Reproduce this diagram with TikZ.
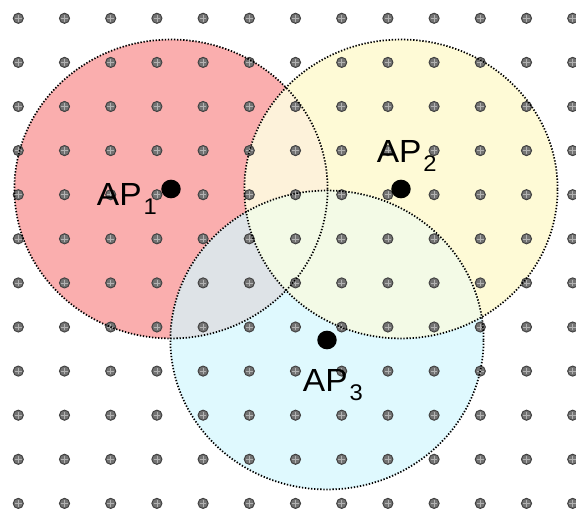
\documentclass[tikz,border=0pt]{standalone}
\usepackage{fontspec}
\usepackage{graphicx}
\setmainfont{Liberation Sans}

% Fill colours of the three coverage zones and their overlaps
\definecolor{zoneA}{RGB}{250,174,174}
\definecolor{zoneB}{RGB}{254,250,214}
\definecolor{zoneC}{RGB}{223,249,254}
\definecolor{zoneAB}{RGB}{253,242,218}
\definecolor{zoneAC}{RGB}{222,227,231}
\definecolor{zoneBC}{RGB}{243,250,230}

\newcommand{\aplabel}[1]{\scalebox{1.048}[1]{AP\kern1.4pt\raisebox{-6.5pt}{\fontsize{17pt}{18pt}\selectfont #1}}}

\tikzset{
  zone/.style={x radius=117.45pt, y radius=112.1pt},
  rim/.style={draw=black, line width=1.3pt, dash pattern=on 1pt off 1.3pt},
  gridpt/.style={circle, fill=black!55, draw=black!75, line width=0.7pt, inner sep=0pt, minimum size=7.6pt},
  apdot/.style={fill=black},
  aptext/.style={anchor=base west, inner sep=0pt, font=\fontsize{24pt}{28pt}\selectfont},
}

\begin{document}
\begin{tikzpicture}[x=0.75pt, y=-0.75pt]
  \useasboundingbox (0,0) rectangle (576,510);

  % access point positions
  \coordinate (ap1) at (171,189);
  \coordinate (ap2) at (401,189);
  \coordinate (ap3) at (327,340);

  % coverage zones
  \fill[zoneA] (ap1) ellipse [zone];
  \fill[zoneB] (ap2) ellipse [zone];
  \fill[zoneC] (ap3) ellipse [zone];
  \begin{scope}
    \clip (ap1) ellipse [zone];
    \fill[zoneAB] (ap2) ellipse [zone];
    \fill[zoneAC] (ap3) ellipse [zone];
  \end{scope}
  \begin{scope}
    \clip (ap2) ellipse [zone];
    \fill[zoneBC] (ap3) ellipse [zone];
  \end{scope}

  % grid of sample points
  \foreach \i in {0,...,12} {
    \foreach \j in {0,...,11} {
      \node[gridpt] (g-\i-\j) at ({18.3+46.2*\i},{18.3+44.1*\j}) {};
      \draw[black!30, line width=0.4pt]
        ([xshift=-2.5pt]g-\i-\j.center) -- ([xshift=2.5pt]g-\i-\j.center)
        ([yshift=-2.5pt]g-\i-\j.center) -- ([yshift=2.5pt]g-\i-\j.center);
    }
  }

  % zone boundaries
  \draw[rim] (ap1) ellipse [zone];
  \draw[rim] (ap2) ellipse [zone];
  \draw[rim] (ap3) ellipse [zone];

  % access points
  \fill[apdot] (ap1) ellipse [x radius=7.3pt, y radius=7pt];
  \fill[apdot] (ap2) ellipse [x radius=7.3pt, y radius=7pt];
  \fill[apdot] (ap3) ellipse [x radius=7.3pt, y radius=7pt];

  \node[aptext] (l1) at (96.7,206) {\aplabel{1}};
  \node[aptext] (l2) at (376.5,163) {\aplabel{2}};
  \node[aptext] (l3) at (302.7,391.7) {\aplabel{3}};
\end{tikzpicture}
\end{document}
